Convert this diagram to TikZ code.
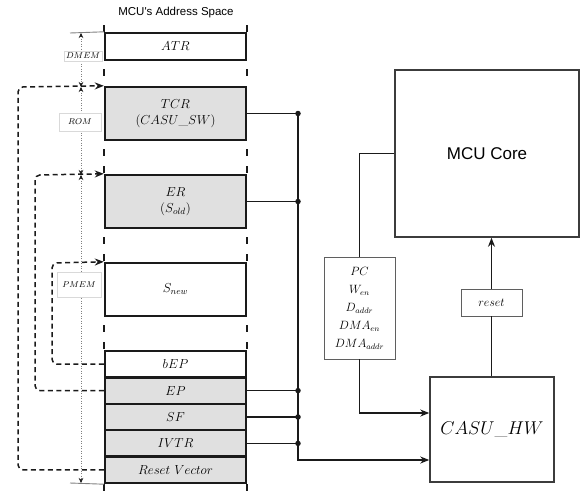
\RequirePackage{fix-cm}
\documentclass[tikz,border=0pt]{standalone}
\usepackage{fontspec}
\newfontfamily\sansf{Liberation Sans}
\usetikzlibrary{arrows.meta}
\definecolor{memgray}{HTML}{E0E0E0}
\definecolor{ink}{HTML}{1A1A1A}
\tikzset{
  mem/.style={draw=ink, line width=2.4pt, minimum width=141pt, inner sep=0pt, font=\fontsize{13}{15}\selectfont},
  memg/.style={mem, fill=memgray},
  gapline/.style={draw=ink, line width=2.4pt, dash pattern=on 7pt off 10pt, dash phase=9pt},
  wire/.style={draw=ink, line width=1.5pt},
  warrow/.style={wire, -{Stealth[length=9pt,width=7pt]}},
  dot/.style={circle, fill=ink, inner sep=0pt, minimum size=5.5pt},
  dasharr/.style={draw=ink, line width=1.5pt, dash pattern=on 5pt off 3.5pt, rounded corners=5pt, -{Stealth[length=9pt,width=7pt]}},
  dimline/.style={draw=gray, line width=0.5pt, dotted},
  dimtip/.style={dimline, {Stealth[length=5pt,width=4.5pt,color=ink]}-{Stealth[length=5pt,width=4.5pt,color=ink]}},
  dimlabel/.style={draw=gray!30, fill=white, line width=0.5pt, font=\fontsize{8.5}{10}\selectfont, inner sep=2pt},
  blk/.style={draw=ink!85, line width=1.5pt},
  sigbox/.style={draw=ink!70, line width=0.9pt, fill=white, inner sep=0pt}
}
\begin{document}
\begin{tikzpicture}[x=1pt,y=-1pt]
\useasboundingbox (0,0) rectangle (584,493);
% title
\node (title) at (176,13) {\sansf\fontsize{11.5}{13}\selectfont MCU's Address Space};
% memory rows
\node[mem, minimum height=27pt] (atr) at (175.5,46.5) {$ATR$};
\node[memg, minimum height=53pt, align=center] (tcr) at (175.5,113.5) {$TCR$\\[1pt]$(CASU\_SW)$};
\node[memg, minimum height=53pt, align=center] (er) at (175.5,201.5) {$ER$\\[1pt]$(S_{old})$};
\node[mem, minimum height=53pt] (snew) at (175.5,289.5) {$S_{new}$};
\node[mem, minimum height=26.4pt] (bep) at (175.5,364.2) {$bEP$};
\node[memg, minimum height=26.4pt] (ep) at (175.5,390.6) {$EP$};
\node[memg, minimum height=26.4pt] (sf) at (175.5,417.0) {$SF$};
\node[memg, minimum height=26.4pt] (ivtr) at (175.5,443.4) {$IVTR$};
\node[memg, minimum height=26.4pt] (rv) at (175.5,469.8) {$Reset\ Vector$};
% bar extensions
\draw[ink, line width=2.4pt] (atr.north west) -- ++(0,-7);
\draw[ink, line width=2.4pt] (atr.north east) -- ++(0,-7);
\draw[ink, line width=2.4pt] (rv.south west) -- ++(0,7);
\draw[ink, line width=2.4pt] (rv.south east) -- ++(0,7);
% gaps
\foreach \a/\b in {atr/tcr, tcr/er, er/snew, snew/bep}{
  \draw[gapline] (\a.south west) -- (\b.north west);
  \draw[gapline] (\a.south east) -- (\b.north east);
}
% dimensions
\coordinate (dtop) at (81,33);
\coordinate (drom) at (81,87);
\coordinate (dpm) at (81,175);
\coordinate (dbot) at (81,483);
\draw[gray, line width=0.9pt] (70,33) -- (atr.north west);
\draw[gray, line width=0.9pt] (70,483) -- (rv.south west);
\draw[dimtip] (dtop) -- (drom);
\draw[dimtip] (drom) -- (dpm);
\draw[dimtip] (dpm) -- (dbot);
\node[dimlabel] (ldmem) at (83,56) {$DMEM$};
\node[dimlabel, minimum width=42pt, minimum height=18pt] (lrom) at (80,122) {$ROM$};
\node[dimlabel, minimum width=44pt, minimum height=25pt] (lpmem) at (79,284.5) {$PMEM$};
% dashed pointers
\draw[dasharr] (rv.west) -- (18,469.8) -- (18,87) -- (tcr.north west);
\draw[dasharr] (ep.west) -- (35,390.6) -- (35,175) -- (er.north west);
\draw[dasharr] (bep.west) -- (52,364.2) -- (52,263) -- (snew.north west);
% blocks
\node[blk, minimum width=184pt, minimum height=167pt] (core) at (487,153.5) {\sansf\fontsize{17}{20}\selectfont MCU Core};
\node[blk, minimum width=124pt, minimum height=105pt] (casu) at (492,429.5) {\fontsize{18.5}{22}\selectfont $CASU\_HW$};
\node[sigbox, minimum width=71pt, minimum height=102pt, align=center, font=\fontsize{12}{18}\selectfont] (sig) at (359.5,308) {$PC$\\$W_{en}$\\$D_{addr}$\\$DMA_{en}$\\$DMA_{addr}$};
\node[sigbox, minimum width=61pt, minimum height=27pt, font=\fontsize{12}{14}\selectfont] (rst) at (491.5,302.5) {$reset$};
% bus
\coordinate (b1) at (298,113.5);
\coordinate (b2) at (298,201.5);
\coordinate (b3) at (298,390.6);
\coordinate (b4) at (298,417.0);
\coordinate (b5) at (298,443.4);
\coordinate (bend) at (298,460);
\draw[wire] (tcr.east) -- (b1);
\draw[wire] (er.east) -- (b2);
\draw[wire] (ep.east) -- (b3);
\draw[wire] (sf.east) -- (b4);
\draw[wire] (ivtr.east) -- (b5);
\draw[warrow] (b1) -- (bend) -- (casu.west |- bend);
\foreach \p in {b1,b2,b3,b4,b5} \node[dot] at (\p) {};
% core - signals - casu
\coordinate (cl) at (359.5,153.5);
\coordinate (cb) at (359.5,413);
\draw[wire] (core.west) -- (cl) -- (sig.north);
\draw[warrow] (sig.south) -- (cb) -- (casu.west |- cb);
\draw[wire] (casu.north -| rst) -- (rst.south);
\draw[warrow] (rst.north) -- (core.south -| rst);
\end{tikzpicture}
\end{document}
